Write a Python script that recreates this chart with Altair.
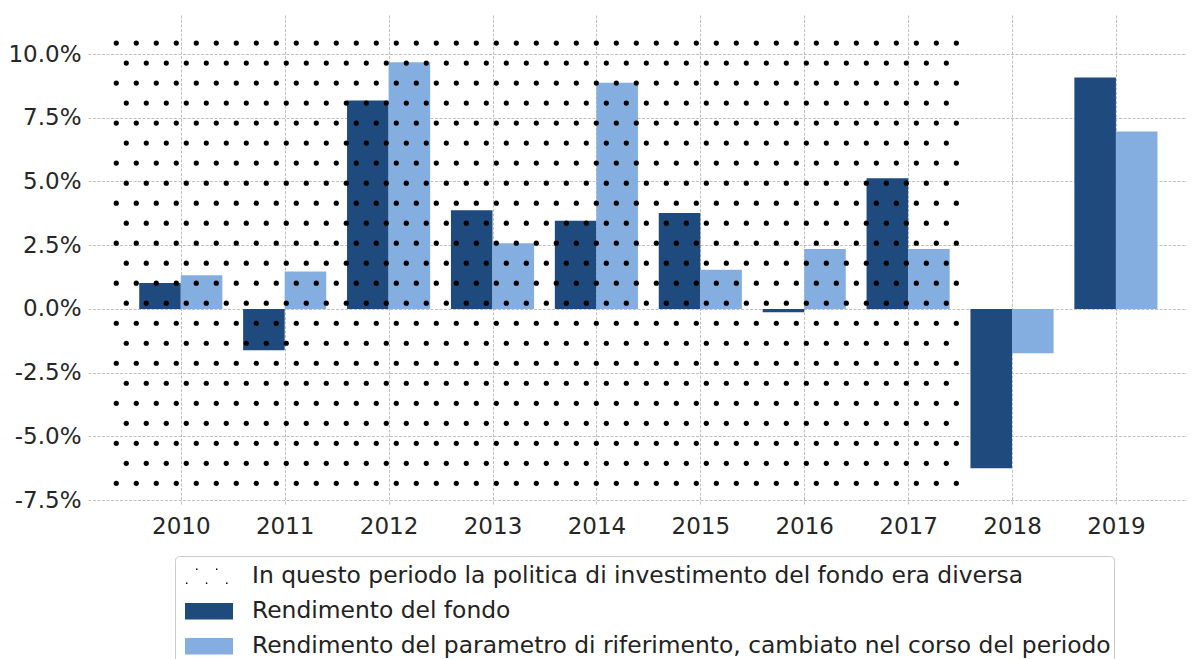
import altair as alt
import numpy as np
import pandas as pd

# ---- data ----
anni = [2010, 2011, 2012, 2013, 2014, 2015, 2016, 2017, 2018, 2019]
rend_fondo = [1.02, -1.62, 8.18, 3.87, 3.46, 3.76, -0.13, 5.13, -6.25, 9.08]
rend_param = [1.32, 1.47, 9.68, 2.58, 8.87, 1.54, 2.35, 2.35, -1.74, 6.96]

serie_nomi = [
    "In questo periodo la politica di investimento del fondo era diversa",
    "Rendimento del fondo",
    "Rendimento del parametro di riferimento, cambiato nel corso del periodo",
]
serie_colori = ["#000000", "#1f4a7d", "#85aee0"]

# shaded (dotted) period: 2010-2017
periodo_x = [2009.36, 2017.51]
periodo_y = [-7.0, 10.5]

y_ticks = [-7.5, -5.0, -2.5, 0.0, 2.5, 5.0, 7.5, 10.0]
x_dominio = [2009.107, 2019.684]
y_dominio = [-7.69, 11.53]

# ---- tables ----
bar_width = 0.4
barre = pd.DataFrame({
    "anno": anni * 2,
    "valore": rend_fondo + rend_param,
    "serie": [serie_nomi[1]] * len(anni) + [serie_nomi[2]] * len(anni),
})
barre["x0"] = barre["anno"] + np.where(barre["serie"] == serie_nomi[1], -bar_width, 0.0)
barre["x1"] = barre["x0"] + bar_width

# dotted hatch texture over the period (staggered grid)
dx, dy = 0.1925, 0.785
righe = []
yv = 10.43
i = 0
while yv >= periodo_y[0]:
    xs = periodo_x[0] + 0.019 + (dx / 2 if i % 2 else 0.0)
    xv = xs
    while xv <= periodo_x[1]:
        righe.append({"x": xv, "y": yv})
        xv += dx
    yv -= dy
    i += 1
punti = pd.DataFrame(righe)

legenda_df = pd.DataFrame({
    "x": [anni[0]] * 3,
    "y": [0.0] * 3,
    "serie": serie_nomi,
})

rect_path = "M-1,-0.34H1V0.34H-1Z"
dot_path = ""
for (px, py) in [(-0.51, -0.29), (0.32, -0.29), (-0.93, 0.29), (-0.10, 0.29), (0.74, 0.29)]:
    s = 0.03
    dot_path += f"M{px - s:.3f},{py - s:.3f}H{px + s:.3f}V{py + s:.3f}H{px - s:.3f}Z"

color_scale = alt.Scale(domain=serie_nomi, range=serie_colori)
shape_scale = alt.Scale(domain=serie_nomi, range=[dot_path, rect_path, rect_path])

x_scale = alt.Scale(domain=x_dominio, nice=False, zero=False)
y_scale = alt.Scale(domain=y_dominio, nice=False, zero=False)

leg = alt.Legend(
    title=None, orient="none", legendX=87, legendY=541, direction="vertical",
    symbolSize=2304, clipHeight=34.5, rowPadding=0, padding=3,
    symbolOffset=7, labelOffset=19, labelFontSize=23.4, labelFont="DejaVu Sans",
    labelColor="#222222", labelLimit=2000, symbolStrokeWidth=0, symbolOpacity=1,
    strokeColor="#cccccc", fillColor="#ffffff", cornerRadius=4,
)

x_axis = alt.Axis(
    values=anni, format="d", title=None, labelFontSize=23, labelFont="DejaVu Sans",
    labelColor="#262626", labelPadding=10, tickSize=0, domain=False,
    grid=True, gridColor="#b0b0b0", gridDash=[3, 1.5], gridWidth=0.8, labelFlush=False,
)
y_axis = alt.Axis(
    values=y_ticks, title=None, labelFontSize=23, labelFont="DejaVu Sans",
    labelColor="#262626", labelPadding=7, tickSize=0, domain=False,
    labelExpr="(datum.value < 0 ? '-' : '') + format(abs(datum.value), '.1f') + '%'",
    grid=True, gridColor="#b0b0b0", gridDash=[3, 1.5], gridWidth=0.8,
)

base_axes = alt.Chart(legenda_df).mark_point(filled=True, size=0).encode(
    x=alt.X("x:Q", scale=x_scale, axis=x_axis),
    y=alt.Y("y:Q", scale=y_scale, axis=y_axis),
    color=alt.Color("serie:N", scale=color_scale, legend=leg, sort=serie_nomi),
    shape=alt.Shape("serie:N", scale=shape_scale, legend=leg, sort=serie_nomi),
)

bars = alt.Chart(barre).mark_rect().encode(
    x=alt.X("x0:Q", scale=x_scale),
    x2="x1:Q",
    y=alt.Y("valore:Q", scale=y_scale),
    y2=alt.datum(0),
    color=alt.Color("serie:N", scale=color_scale, legend=None),
)

dots = alt.Chart(punti).mark_circle(size=27, color="black", opacity=1).encode(
    x=alt.X("x:Q", scale=x_scale),
    y=alt.Y("y:Q", scale=y_scale),
)

chart = alt.layer(base_axes, bars, dots).properties(
    width=1099, height=490,
    autosize=alt.AutoSizeParams(type="none"),
    padding={"left": 80, "top": 7, "right": 0, "bottom": 156},
).configure_view(stroke=None)

chart.save("out.html", embed_options={"renderer": "svg", "actions": False})
